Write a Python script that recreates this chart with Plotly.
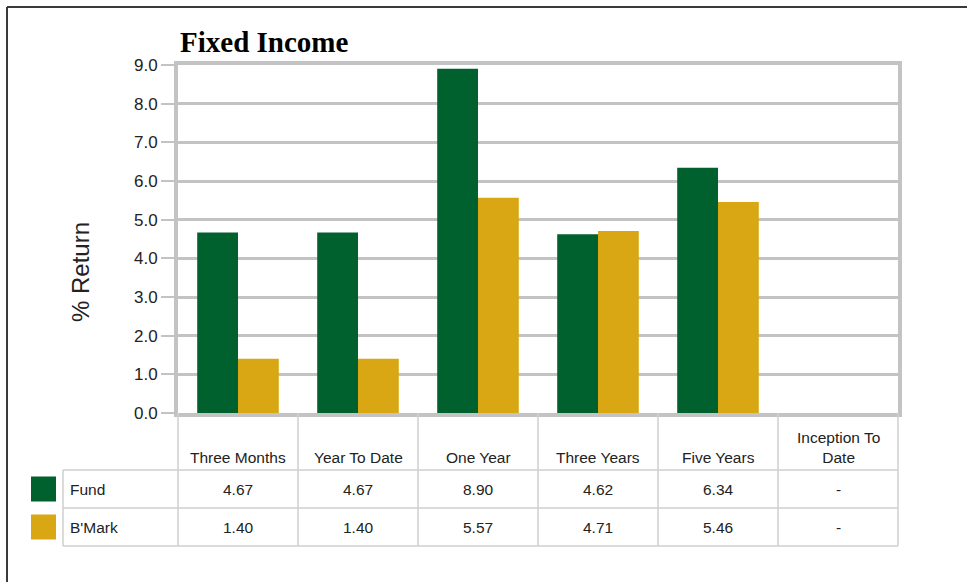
import plotly.graph_objects as go

# ---- data ----
categories = ["Three Months", "Year To Date", "One Year", "Three Years", "Five Years", "Inception To Date"]
header_labels = ["Three Months", "Year To Date", "One Year", "Three Years", "Five Years", "Inception To<br>Date"]
series_names = ["Fund", "B'Mark"]
fund = [4.67, 4.67, 8.90, 4.62, 6.34, None]
bmark = [1.40, 1.40, 5.57, 4.71, 5.46, None]
y_ticks = [0, 1, 2, 3, 4, 5, 6, 7, 8, 9]

W, H = 967, 582
GREEN = "#00612F"
GOLD = "#D9A713"
GRID = "#C3C3C3"
TBL = "#CFCFCF"
TXT = "#222222"
SANS = "Liberation Sans, Arial, sans-serif"

def X(px):
    return px / W

def Y(py):
    return 1 - py / H

PL, PR, PT, PB = 178, 898, 65, 413

fig = go.Figure()
fig.add_trace(go.Bar(x=categories, y=fund, name=series_names[0], marker_color=GREEN,
                     marker_line_width=0))
fig.add_trace(go.Bar(x=categories, y=bmark, name=series_names[1], marker_color=GOLD,
                     marker_line_width=0))

shapes = []
annotations = []

# outer border (top and left visible)
shapes.append(dict(type="line", xref="paper", yref="paper", x0=X(7), x1=X(967), y0=Y(7), y1=Y(7),
                   line=dict(color="#3a3a3a", width=2)))
shapes.append(dict(type="line", xref="paper", yref="paper", x0=X(7), x1=X(7), y0=Y(7), y1=Y(582),
                   line=dict(color="#3a3a3a", width=2)))

# data table grid
col_w = (PR - PL) / len(categories)
row_lines = [470, 508, 546]
label_left = 63
for ry in row_lines:
    shapes.append(dict(type="line", xref="paper", yref="paper", x0=X(label_left), x1=X(PR),
                       y0=Y(ry), y1=Y(ry), line=dict(color=TBL, width=1.5)))
for i in range(len(categories) + 1):
    cx = PL + i * col_w
    shapes.append(dict(type="line", xref="paper", yref="paper", x0=X(cx), x1=X(cx),
                       y0=Y(PB), y1=Y(546), line=dict(color=TBL, width=1.5)))
shapes.append(dict(type="line", xref="paper", yref="paper", x0=X(label_left), x1=X(label_left),
                   y0=Y(470), y1=Y(546), line=dict(color=TBL, width=1.5)))

# header labels
for i, lab in enumerate(header_labels):
    cx = PL + (i + 0.5) * col_w
    annotations.append(dict(x=X(cx), y=Y(468), xref="paper", yref="paper", text=lab,
                            showarrow=False, xanchor="center", yanchor="bottom",
                            font=dict(family=SANS, size=15.5, color=TXT)))

# rows with legend swatches
row_centers = [489, 527]
colors = [GREEN, GOLD]
for r, (name, vals) in enumerate(zip(series_names, [fund, bmark])):
    yc = row_centers[r]
    shapes.append(dict(type="rect", xref="paper", yref="paper", x0=X(31), x1=X(56),
                       y0=Y(yc - 12.5), y1=Y(yc + 12.5), fillcolor=colors[r], line=dict(width=0)))
    annotations.append(dict(x=X(68), y=Y(yc), xref="paper", yref="paper", text=name,
                            showarrow=False, xanchor="left", yanchor="middle",
                            font=dict(family=SANS, size=15.5, color=TXT)))
    for i, v in enumerate(vals):
        cx = PL + (i + 0.5) * col_w
        txt = "-" if v is None else f"{v:.2f}"
        annotations.append(dict(x=X(cx), y=Y(yc), xref="paper", yref="paper", text=txt,
                                showarrow=False, xanchor="center", yanchor="middle",
                                font=dict(family=SANS, size=15.5, color=TXT)))

# title
annotations.append(dict(x=X(178), y=Y(42), xref="paper", yref="paper", text="<b>Fixed Income</b>",
                        showarrow=False, xanchor="left", yanchor="middle",
                        font=dict(family="Liberation Serif, Times New Roman, serif", size=29, color="#000000")))
# y title
annotations.append(dict(x=X(80), y=Y(272), xref="paper", yref="paper", text="% Return",
                        showarrow=False, xanchor="center", yanchor="middle", textangle=-90,
                        font=dict(family=SANS, size=24, color=TXT)))

fig.update_layout(
    width=W, height=H, autosize=False,
    margin=dict(l=0, r=0, t=0, b=0, pad=0, autoexpand=False),
    paper_bgcolor="white", plot_bgcolor="white",
    barmode="group", bargap=0.32, bargroupgap=0,
    showlegend=False,
    shapes=shapes, annotations=annotations,
    xaxis=dict(domain=[X(PL), X(PR)], showticklabels=False, ticks="", showgrid=False,
               showline=True, mirror=True, linecolor=GRID, linewidth=4, automargin=False,
               range=[-0.5, len(categories) - 0.5], fixedrange=True),
    yaxis=dict(domain=[Y(PB), Y(PT)], range=[0, 9], tickvals=y_ticks,
               ticktext=[f"{t:.1f}" for t in y_ticks], automargin=False,
               showgrid=True, gridcolor=GRID, gridwidth=3, zeroline=False,
               showline=True, mirror=True, linecolor=GRID, linewidth=4,
               ticks="outside", ticklen=13, tickwidth=2, tickcolor=GRID,
               tickfont=dict(family=SANS, size=17, color=TXT), fixedrange=True),
)

fig.write_html("out.html", config={"displayModeBar": False})
